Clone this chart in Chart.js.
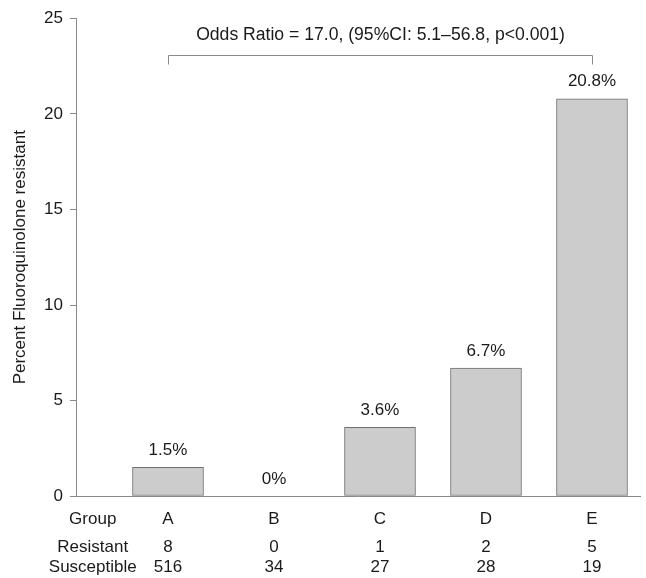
<!DOCTYPE html>
<html>
<head>
<meta charset="utf-8">
<style>
  html, body { margin: 0; padding: 0; background: #ffffff; }
  #c { display: block; }
</style>
<script src="https://cdn.jsdelivr.net/npm/chart.js@4.4.1/dist/chart.umd.min.js"></script>
</head>
<body>
<canvas id="c" width="646" height="578"></canvas>
<script>
// ---- data ----
const groups = ['A', 'B', 'C', 'D', 'E'];
const percentResistant = [1.5, 0, 3.6, 6.7, 20.8];
const percentLabels = ['1.5%', '0%', '3.6%', '6.7%', '20.8%'];
const resistantCounts = [8, 0, 1, 2, 5];
const susceptibleCounts = [516, 34, 27, 28, 19];
const rowLabels = ['Group', 'Resistant', 'Susceptible'];
const yTicks = [0, 5, 10, 15, 20, 25];
const annotationText = 'Odds Ratio = 17.0, (95%CI: 5.1\u201356.8, p<0.001)';
const yTitle = 'Percent Fluoroquinolone resistant';

const FONT = '"Liberation Sans", Arial, Helvetica, sans-serif';
const TEXT = '#1a1a1a';
const AXIS = '#8a8a8a';

const overlay = {
  id: 'overlay',
  afterDatasetsDraw(chart) {
    const ctx = chart.ctx;
    const xs = chart.scales.x, ys = chart.scales.y;
    ctx.save();
    ctx.fillStyle = TEXT;
    ctx.font = '17px ' + FONT;
    ctx.textAlign = 'center';
    ctx.textBaseline = 'middle';
    // value labels above bars
    groups.forEach((g, i) => {
      const px = xs.getPixelForValue(i);
      const py = ys.getPixelForValue(percentResistant[i]) - 17;
      ctx.fillText(percentLabels[i], px, py);
    });
    // bracket
    const x0 = Math.round(xs.getPixelForValue(0)) + 0.5;
    const x1 = Math.round(xs.getPixelForValue(groups.length - 1)) + 0.5;
    const yTop = Math.round(ys.getPixelForValue(23.1)) + 0.5;
    const yLow = Math.round(ys.getPixelForValue(22.6)) + 0.5;
    ctx.strokeStyle = AXIS;
    ctx.lineWidth = 1;
    ctx.beginPath();
    ctx.moveTo(x0, yLow); ctx.lineTo(x0, yTop); ctx.lineTo(x1, yTop); ctx.lineTo(x1, yLow);
    ctx.stroke();
    ctx.font = '17.6px ' + FONT;
    ctx.fillText(annotationText, (x0 + x1) / 2, ys.getPixelForValue(24.12));
    ctx.font = '17px ' + FONT;
    // table below the axis
    const base = ys.getPixelForValue(0);
    const rowY = [base + 23, base + 51, base + 71];
    const labelX = xs.getPixelForValue(-0.71);
    rowLabels.forEach((r, k) => ctx.fillText(r, labelX, rowY[k]));
    groups.forEach((g, i) => {
      const px = xs.getPixelForValue(i);
      ctx.fillText(g, px, rowY[0]);
      ctx.fillText(String(resistantCounts[i]), px, rowY[1]);
      ctx.fillText(String(susceptibleCounts[i]), px, rowY[2]);
    });
    ctx.restore();
  }
};

new Chart(document.getElementById('c'), {
  type: 'bar',
  data: {
    datasets: [{
      data: groups.map((g, i) => ({ x: i, y: percentResistant[i] })),
      backgroundColor: '#cccccc',
      borderColor: '#6f6f6f',
      borderWidth: 1,
      borderSkipped: false,
      barThickness: 71
    }]
  },
  options: {
    responsive: false,
    animation: false,
    events: [],
    layout: { padding: { top: 18.5, right: 6, left: 0, bottom: 0 } },
    plugins: { legend: { display: false }, tooltip: { enabled: false } },
    scales: {
      x: {
        type: 'linear',
        offset: false,
        min: -0.8679,
        max: 4.4529,
        ticks: { display: false },
        grid: { display: false, drawTicks: false, offset: false },
        border: { display: true, color: AXIS, width: 1 },
        afterFit(s) { s.height = 82; }
      },
      y: {
        min: 0,
        max: 25,
        afterBuildTicks(s) { s.ticks = yTicks.map(v => ({ value: v })); },
        ticks: { color: TEXT, font: { family: FONT, size: 17 }, padding: 7 },
        grid: { drawOnChartArea: false, drawTicks: true, tickLength: 6, color: AXIS, tickColor: AXIS },
        border: { display: true, color: AXIS, width: 1 },
        title: { display: true, text: yTitle, color: TEXT, font: { family: FONT, size: 17 }, padding: { top: 10, bottom: 0 } },
        afterFit(s) { s.width = 76; }
      }
    }
  },
  plugins: [overlay]
});
</script>
</body>
</html>
